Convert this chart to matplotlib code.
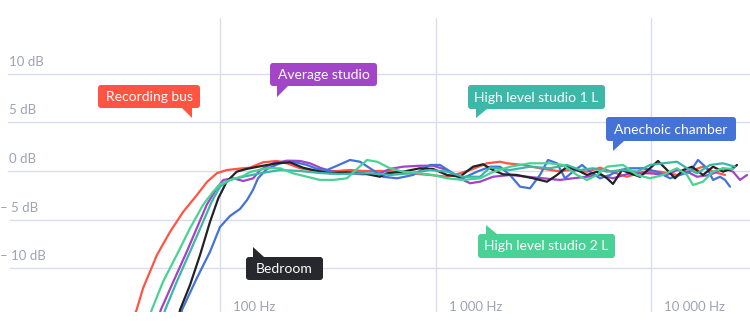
import matplotlib
matplotlib.use("Agg")
import matplotlib.pyplot as plt
from matplotlib import transforms
from matplotlib.patches import FancyBboxPatch, Polygon

plt.rcParams['font.family'] = ['Lato', 'DejaVu Sans']

# frequency response per room, Hz / dB
rec_bus_hz = [39, 41, 44, 51, 58.6, 67.4, 78.2, 87, 96.9, 107.8, 123.8, 137.8, 158.3, 183.9, 204.6,
              235.1, 281.9, 349.1, 401.1, 460.9, 552.7, 615, 761.6, 943, 1131, 1299, 1493, 1734,
              1992, 2147, 2547, 3054, 3663, 4346, 5047, 5799, 6662, 7739, 9181, 11011, 13202,
              15665, 17429, 19403, 22055]
rec_bus_db = [-15.5, -14.27, -12.01, -8.62, -6.26, -4.21, -2.46, -1.13, -0.21, 0.10, 0.25, 0.34, 0.89,
              1.03, 0.79, 0.28, 0, 0, 0.10, 0, 0, 0, -0.24, -0.41, -0.59, -0.24, 0.21, 0.79, 0.95,
              0.79, 0.62, 0.28, 0, 0.10, -0.07, 0.34, -0.13, -0.59, -0.07, -0.07, -0.41, 0.10,
              0.44, -0.07, -0.41]

hls2_hz = [46.5, 48.2, 54.4, 63.0, 72.6, 83.4, 92.8, 100, 111.3, 128.3, 137.8, 165.2, 189.9, 218.2,
           253.3, 291.1, 334.5, 388.4, 432.2, 481, 535.3, 615, 707, 847.5, 973.6, 1131, 1341, 1609,
           1849, 2217, 2745, 3399, 3905, 4536, 5047, 5616, 6249, 7416, 8610, 9894, 11370, 13202,
           14692, 15665, 17429, 19403, 21588, 24020]
hls2_db = [-15.3, -14.27, -11.37, -8.62, -5.88, -3.49, -2.13, -1.37, -0.92, -0.51, -0.10, 0.28, 0.28,
           -0.24, -0.59, -0.92, -0.92, -0.75, 0.21, 1.13, 0.95, 0.28, -0.07, -0.24, -0.41, -0.75,
           -0.92, -0.75, -0.10, 0.44, 0.79, 0.79, 0.62, -0.41, -0.92, -0.41, 0.44, 0.62, -0.41,
           -0.75, -0.41, 0.28, -0.41, -1.44, -1.10, -0.07, 0.28, 0.21]

avg_hz = [51.5, 53.1, 60.7, 70.1, 78.0, 86.7, 96.5, 103.6, 115.3, 128.3, 142.7, 153.3, 176.2, 204.6,
          235.1, 261.6, 291.1, 324.0, 388.4, 460.9, 552.7, 615, 707, 847.5, 973.6, 1131, 1299,
          1446, 1609, 1849, 2217, 2658, 3154, 3782, 4346, 5047, 5799, 6662, 7991, 9894, 11863,
          13202, 14692, 16350, 18789, 21588, 24020, 25883, 27898]
avg_db = [-15.3, -14.27, -11.37, -8.29, -5.88, -3.49, -1.78, -0.92, -0.75, -1.03, -0.75, 0.10, 0.79,
          1.06, 1.03, 0.79, 0.34, 0, -0.24, -0.34, -0.24, 0.21, 0.44, 0.54, 0.54, 0.10, -0.75,
          -1.26, -1.10, -0.59, -0.41, -0.59, -0.75, -0.92, -0.75, -0.59, -0.41, -0.75, -0.24,
          -0.24, -0.41, 0.10, -0.07, -0.59, -0.41, 0.28, -0.07, -0.92, -0.41]

hls1_hz = [54, 55.6, 63.0, 72.6, 82.3, 91.5, 100, 111.3, 128.3, 153.3, 189.9, 235.1, 291.1, 360,
           446.3, 496.7, 615, 761.6, 943, 1131, 1341, 1609, 1790, 2217, 2745, 3399, 4077, 4683,
           5381, 6249, 7416, 8610, 9894, 11370, 13202, 14692, 16350, 18789, 21588, 24540]
hls1_db = [-15.3, -14.27, -11.37, -8.29, -5.54, -3.15, -1.61, -0.92, -0.59, -0.24, 0.10, 0, -0.21,
           -0.31, -0.24, -0.24, -0.41, -0.24, 0.10, -0.07, -0.59, -0.59, 0.36, 0.10, 0.44, 0.28,
           0.62, 0.10, 0.28, -0.07, 0.10, -0.07, 0.62, 0.79, 0.95, 0.28, -0.24, 0.62, 0.79, 0.44]

bedroom_hz = [64, 65.2, 72.6, 80.8, 89.9, 98.2, 107.4, 119.5, 133.0, 158.3, 183.9, 211.3, 242.7,
              281.9, 324.0, 388.4, 460.9, 552.7, 595.5, 707, 847.5, 973.6, 1131, 1299, 1493, 1661,
              1849, 2057, 2389, 2835, 3292, 3663, 4077, 4536, 5047, 5616, 6249, 6662, 7336, 7991,
              8892, 9894, 10778, 11863, 12925, 14077, 15499, 17429, 19403, 21588, 24020, 25070]
bedroom_db = [-15.3, -14.27, -11.70, -8.62, -5.21, -2.80, -1.10, -0.07, 0.21, 0.54, 0.79, 0.89, 0.34,
              0, -0.24, -0.13, -0.24, -0.59, -0.24, -0.07, 0.28, 0.21, -0.41, -0.59, 0.44, 0.69,
              0.10, -0.34, -0.41, -0.75, -1.10, -0.41, 0.44, 0.10, -0.41, -0.07, -0.75, -1.33, 0.10,
              -0.24, -0.59, 0.28, 1.03, 0.10, -0.75, 0.10, 0.44, -0.41, 0.44, -0.07, 0.28, 0.62]

anechoic_hz = [65.5, 66.6, 78.0, 89.9, 100, 111.3, 123.8, 133.5, 142.2, 150.1, 165.2, 189.9, 218.2,
               253.3, 281.9, 313.7, 349.1, 401.1, 446.3, 496.7, 570.6, 662.6, 786.4, 943, 1049,
               1206, 1341, 1558, 1790, 1992, 2217, 2467, 2745, 3054, 3327, 3663, 3990, 4346, 4784,
               5212, 5799, 6452, 7180, 7991, 9181, 10662, 12252, 13633, 15171, 16525, 18196,
               19403, 20907, 22055, 23263]
anechoic_db = [-15.3, -14.27, -11.02, -8.29, -5.75, -4.62, -3.90, -2.98, -1.95, -0.75, 0.21, 0.79,
               0.95, 0.62, 0.21, 0.10, 0.54, 1.13, 0.95, 0.28, -0.59, -0.75, -0.41, 0.62, 0.62,
               -0.24, -0.75, -0.07, 0.44, 0.44, -0.41, -1.61, -1.78, -0.41, 1.13, 0.79, -0.75,
               -0.07, 0.62, -0.07, -0.75, -0.41, 0.10, 0.28, 0.28, -0.07, -0.75, -0.41, -0.07,
               1.13, 0.28, -0.92, -0.59, -0.92, -1.61]

room_names = ["Recording bus", "Average studio", "Anechoic chamber", "Bedroom",
              "High level studio 1 L", "High level studio 2 L"]
room_colors = ["#ff5443", "#a244c8", "#4472d8", "#222326", "#3cb6a6", "#48d294"]
room_series = [(rec_bus_hz, rec_bus_db), (avg_hz, avg_db), (anechoic_hz, anechoic_db),
               (bedroom_hz, bedroom_db), (hls1_hz, hls1_db), (hls2_hz, hls2_db)]
label_colors = ["#ff5443", "#a245c8", "#4472d6", "#26282d", "#3db8a8", "#4ad195"]

db_ticks = [10, 5, 0, -5, -10]
hz_ticks = [100, 1000, 10000]

# bubble layout in pixels: box (x0, y0, x1, y1), tail triangle
bubbles = [
    ((98, 85, 200, 108), [(182, 108), (192, 108), (192, 118)]),
    ((270, 63, 377, 86), [(277, 86), (288, 86), (277, 97)]),
    ((606, 117, 736, 141), [(613, 141), (624, 141), (613, 151)]),
    ((246, 257, 323, 280), [(253, 257), (264, 257), (253, 247)]),
    ((468, 85, 605, 109), [(476, 109), (487, 109), (476, 118)]),
    ((478, 234, 615, 258), [(486, 234), (497, 234), (486, 225)]),
]

W, H = 750, 331
grid_color = "#d8dcee"
tick_color = "#9ea3b3"

fig = plt.figure(figsize=(W / 100, H / 100), dpi=100)
ax = fig.add_axes([0, 1 - 312 / H, 1, 294 / H])
ax.set_xscale('log')
ax.set_xlim(9.53, 28800)
ax.set_ylim(-14.48, 15.71)
ax.axis('off')

for v in db_ticks:
    start = 8 if v >= 0 else 10
    ax.axhline(v, xmin=start / W, xmax=1, color=grid_color, lw=1, zorder=1)
for v in hz_ticks:
    ax.axvline(v, color=grid_color, lw=1, zorder=1)

for (hz, db), c in zip(room_series, room_colors):
    ax.plot(hz, db, color=c, lw=1.6, zorder=3, solid_capstyle='round', solid_joinstyle='round')

# tick labels
ytrans = transforms.offset_copy(ax.get_yaxis_transform(), fig=fig, x=0, y=12, units='dots')
for v in db_ticks:
    if v < 0:
        ax.text(0, v, f"\u2013 {abs(v)} dB", transform=ytrans, ha='left', va='center',
                fontsize=9.5, color=tick_color)
    else:
        ax.text(9 / W, v, f"{v} dB", transform=ytrans, ha='left', va='center',
                fontsize=9.5, color=tick_color)

xtrans = transforms.offset_copy(ax.get_xaxis_transform(), fig=fig, x=13, y=0, units='dots')
for v in hz_ticks:
    ax.text(v, 5 / 294, f"{v:,} Hz".replace(",", " "), transform=xtrans, ha='left', va='center',
            fontsize=9.5, color=tick_color)

# speech bubbles
tpx = transforms.Affine2D().scale(1 / W, -1 / H).translate(0, 1) + fig.transFigure
for name, col, (box, tail) in zip(room_names, label_colors, bubbles):
    x0, y0, x1, y1 = box
    fig.add_artist(FancyBboxPatch((x0, y0), x1 - x0, y1 - y0,
                                  boxstyle="round,pad=0,rounding_size=3",
                                  transform=tpx, facecolor=col, edgecolor='none', zorder=5))
    fig.add_artist(Polygon(tail, closed=True, transform=tpx, facecolor=col,
                           edgecolor='none', zorder=5))
    fig.text((x0 + x1) / 2, (y0 + y1) / 2 + 0.5, name, transform=tpx, ha='center',
             va='center', fontsize=10, color='white', zorder=6)

fig.savefig("out.png", dpi=100, facecolor='white')
